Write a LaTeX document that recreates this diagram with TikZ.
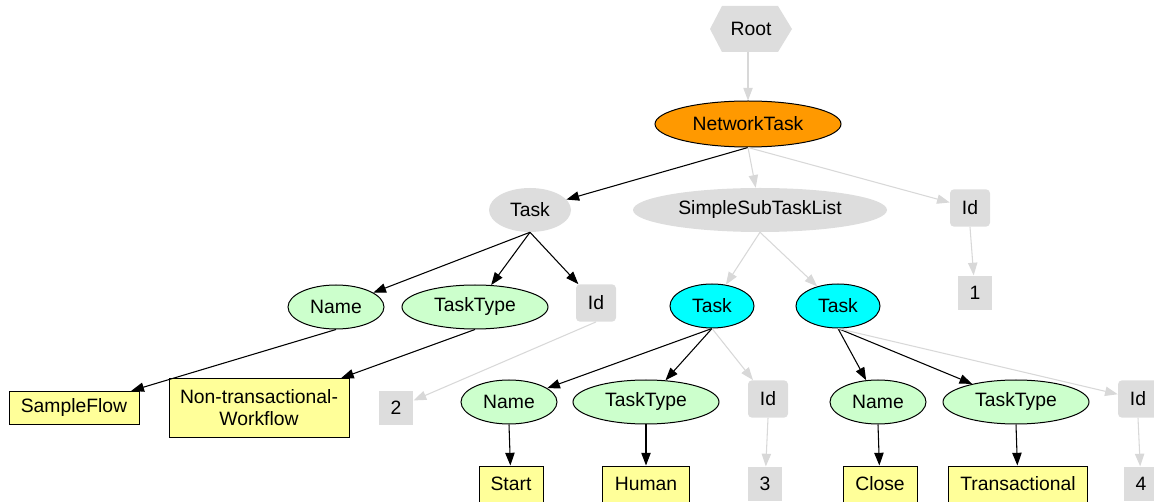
\documentclass[tikz,border=0pt]{standalone}
\usepackage{fontspec}
\setmainfont{Liberation Sans}
\usetikzlibrary{arrows.meta,shapes.geometric}
\definecolor{gvgray}{HTML}{DDDDDD}
\definecolor{edgegray}{HTML}{D8D8D8}
\definecolor{gvorange}{HTML}{FF9900}
\definecolor{gvgreen}{HTML}{CCFFCC}
\definecolor{gvyellow}{HTML}{FFFF99}
\definecolor{gvcyan}{HTML}{00FFFF}
\tikzset{
  base/.style={font=\fontsize{14.5}{16.5}\selectfont, inner sep=0pt, align=center},
  grayell/.style={base, ellipse, fill=gvgray, minimum height=33pt},
  orangeell/.style={base, ellipse, draw=black, line width=0.75pt, fill=gvorange, minimum height=34.5pt},
  greenell/.style={base, ellipse, draw=black, line width=0.75pt, fill=gvgreen, minimum height=33pt},
  cyanell/.style={base, ellipse, draw=black, line width=0.75pt, fill=gvcyan, minimum height=33pt, minimum width=63pt},
  idbox/.style={base, rectangle, rounded corners=3pt, fill=gvgray, minimum width=30pt, minimum height=28pt},
  valbox/.style={base, rectangle, fill=gvgray, minimum width=26pt, minimum height=26pt},
  leaf/.style={base, rectangle, draw=black, line width=0.75pt, fill=gvyellow, minimum height=27pt},
  blk/.style={draw=black, line width=0.8pt, -{Triangle[length=9.5pt,width=7pt]}},
  gry/.style={draw=edgegray, line width=0.8pt, -{Triangle[length=9.5pt,width=7pt,fill=edgegray]}},
}
\begin{document}
\begin{tikzpicture}[x=0.75pt,y=-0.75pt]
\useasboundingbox (0,0) rectangle (1154,502);
% Root hexagon
\fill[gvgray] (710,29) -- (722,6) -- (778,6) -- (792,29) -- (778,52) -- (722,52) -- cycle;
\node[base, minimum width=61pt, minimum height=34.5pt] (root) at (751,29) {Root};
\node[orangeell, minimum width=139.5pt] (nt) at (748,124) {NetworkTask};
\node[grayell, minimum width=61.5pt] (task) at (530,210) {Task};
\node[grayell, minimum width=190.5pt] (sstl) at (760,210) {SimpleSubTaskList};
\node[idbox] (id0) at (970,208) {Id};
\node[valbox] (v1) at (975,293) {1};
% row 3
\node[greenell, minimum width=72pt] (name0) at (336,307) {Name};
\node[greenell, minimum width=109.5pt] (tt0) at (475,307) {TaskType};
\node[idbox] (id1) at (596,303) {Id};
\node[cyanell] (t1) at (712,306) {Task};
\node[cyanell] (t2) at (838,306) {Task};
% row 4
\node[leaf, minimum width=97.5pt, minimum height=25pt] (sf) at (74,408) {SampleFlow};
\node[leaf, minimum width=135pt, minimum height=44pt] (ntw) at (259,408) {Non-transactional-\\Workflow};
\node[valbox] (v2) at (396,408) {2};
\node[greenell, minimum width=72pt] (name1) at (509,402) {Name};
\node[greenell, minimum width=109.5pt] (tt1) at (646,402) {TaskType};
\node[idbox] (id2) at (768,399) {Id};
\node[greenell, minimum width=72pt] (name2) at (878,402) {Name};
\node[greenell, minimum width=109.5pt] (tt2) at (1016,402) {TaskType};
\node[idbox] (id3) at (1138,399) {Id};
% row 5
\node[leaf, minimum width=48pt] (start) at (511,484) {Start};
\node[leaf, minimum width=65pt] (human) at (646,484) {Human};
\node[valbox] (v3) at (765,484) {3};
\node[leaf, minimum width=55.5pt] (close) at (880,484) {Close};
\node[leaf, minimum width=104pt] (trans) at (1018,484) {Transactional};
\node[valbox] (v4) at (1141,484) {4};
% edges
\draw[gry] (748,52) -- (nt);
\draw[blk] (nt.south) -- (task);
\draw[gry] (nt.south) -- (sstl);
\draw[gry] (nt.south) -- (id0);
\draw[gry] (id0.south) -- (v1);
\draw[blk] (task.south) -- (name0);
\draw[blk] (task.south) -- (tt0);
\draw[blk] (task.south) -- (id1);
\draw[blk] (name0.south) -- (sf);
\draw[blk] (tt0.south) -- (ntw);
\draw[gry] (id1.south) -- (v2);
\draw[gry] (sstl.south) -- (t1);
\draw[gry] (sstl.south) -- (t2);
\draw[blk] (t1.south) -- (name1);
\draw[blk] (t1.south) -- (tt1);
\draw[gry] (t1.south) -- (id2);
\draw[blk] (t2.south) -- (name2);
\draw[blk] (t2.south) -- (tt2);
\draw[gry] (t2.south) -- (id3);
\draw[blk] (name1.south) -- (start);
\draw[blk] (tt1.south) -- (human);
\draw[gry] (id2.south) -- (v3);
\draw[blk] (name2.south) -- (close);
\draw[blk] (tt2.south) -- (trans);
\draw[gry] (id3.south) -- (v4);
\end{tikzpicture}
\end{document}
